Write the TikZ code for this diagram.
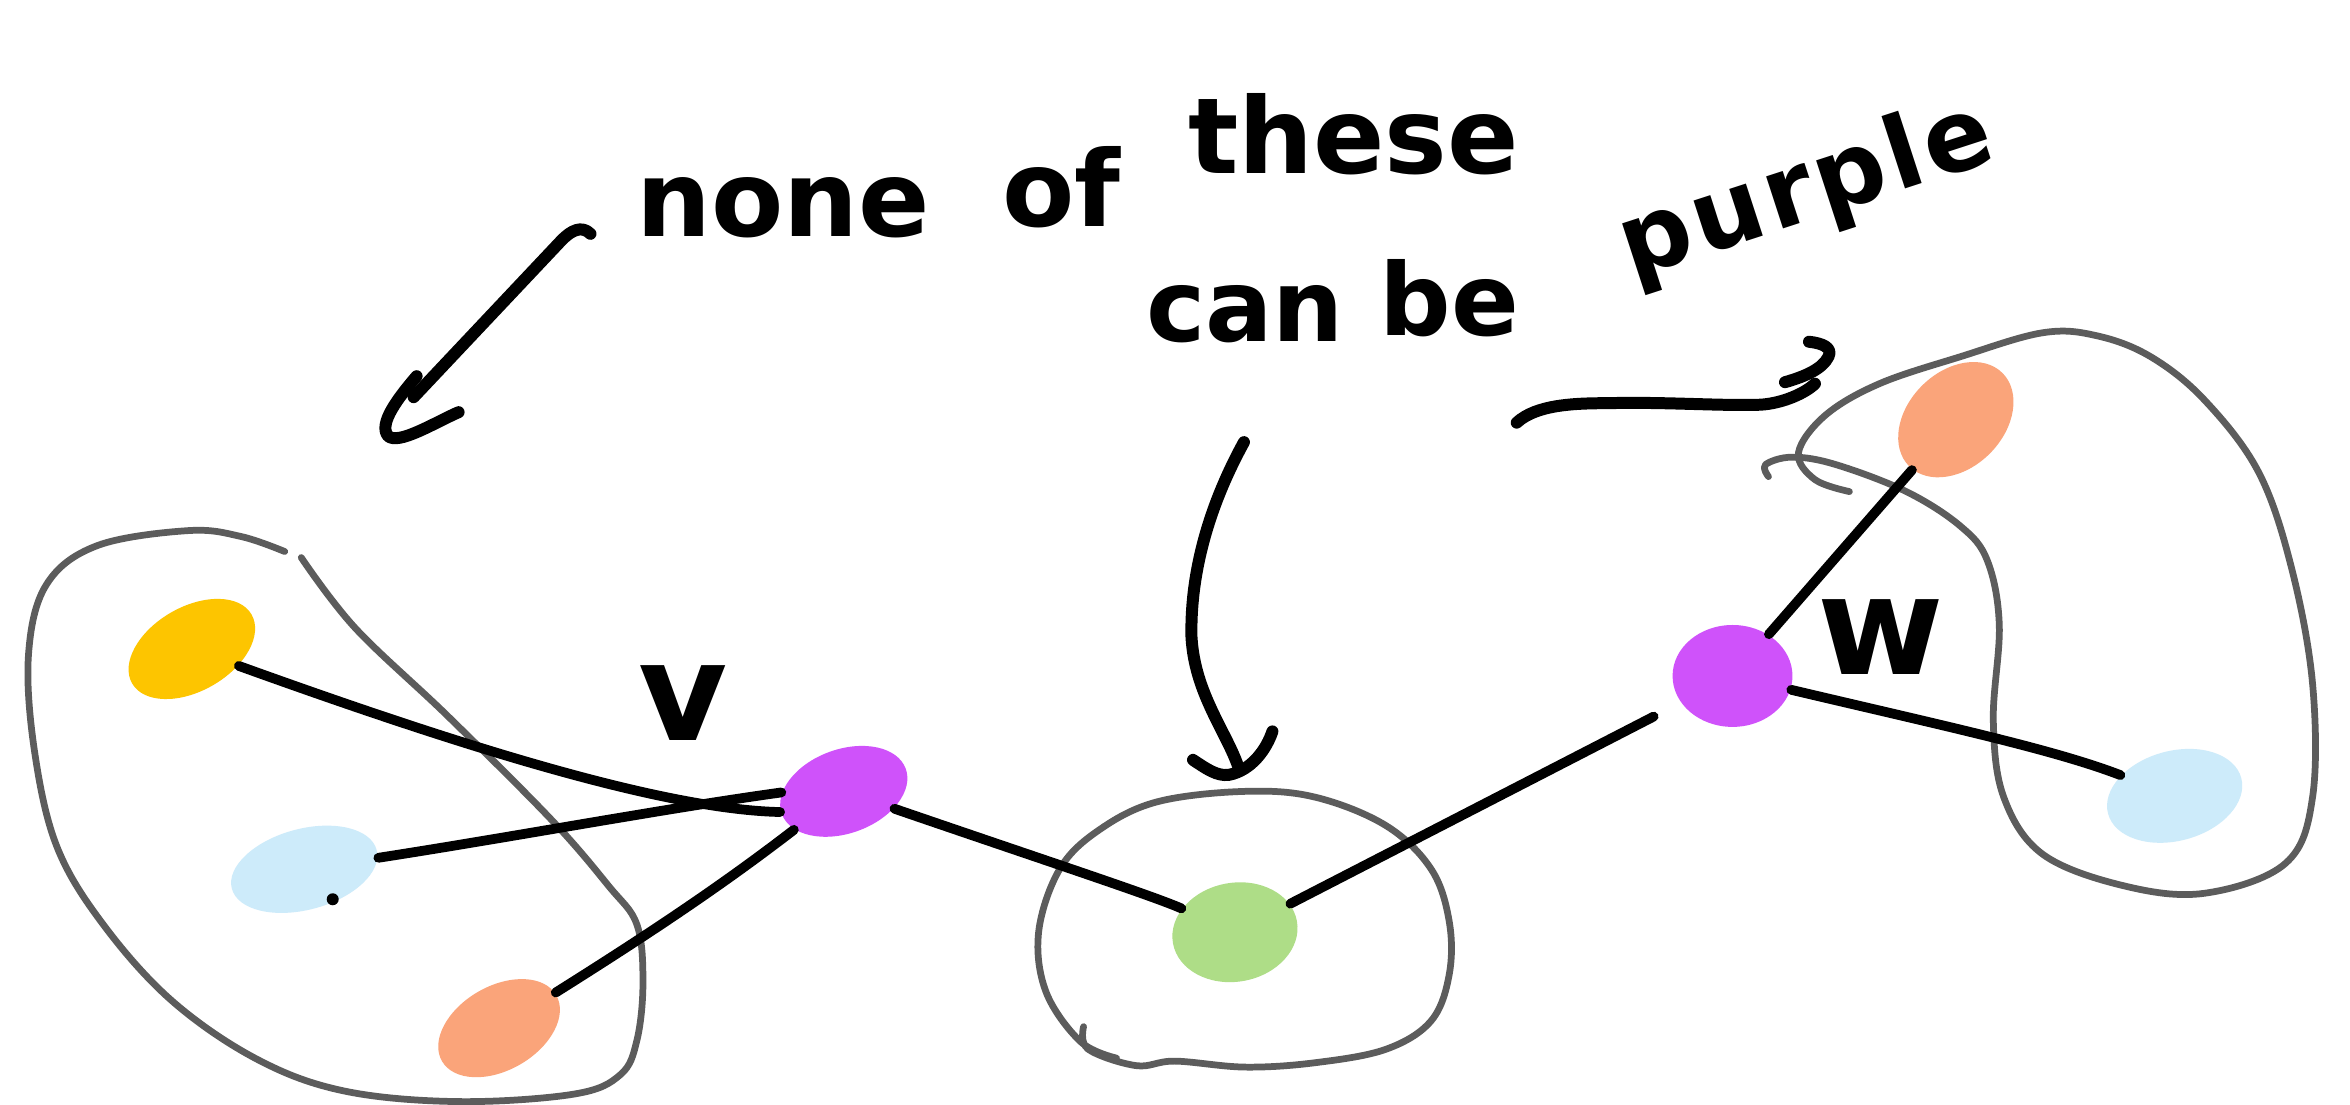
\documentclass[tikz,border=0pt]{standalone}
\usepackage{fontspec}
\setmainfont{DejaVu Sans}
\usetikzlibrary{shapes.geometric}

\definecolor{blobyellow}{RGB}{253,197,0}
\definecolor{blobblue}{RGB}{205,235,250}
\definecolor{bloborange}{RGB}{250,164,122}
\definecolor{blobpurple}{RGB}{207,82,250}
\definecolor{blobgreen}{RGB}{174,221,135}
\definecolor{pencil}{RGB}{92,92,92}

\begin{document}
\begin{tikzpicture}[x=0.1mm, y=-0.1mm,
  blob/.style={ellipse, inner sep=0pt, draw=none},
  edge/.style={line width=0.65mm, line cap=round},
  ink/.style={line width=0.8mm, line cap=round, line join=round},
  outline/.style={line width=0.45mm, draw=pencil, line cap=round, line join=round},
  word/.style={font=\fontsize{20pt}{22pt}\selectfont\bfseries, inner sep=0pt, anchor=base west},
  smallword/.style={word, font=\fontsize{19pt}{21pt}\selectfont\bfseries},
  lbl/.style={font=\fontsize{26pt}{28pt}\selectfont\bfseries, inner sep=0pt}]

\useasboundingbox (0,0) rectangle (1568,737);
\fill[white] (0,0) rectangle (1568,737);

% vertices
\node[blob, fill=blobyellow, minimum width=9.2mm, minimum height=5.6mm, rotate=30] (yel) at (128,433) {};
\node[blob, fill=blobblue,   minimum width=10mm,  minimum height=5.4mm, rotate=15] (lbA) at (203,580) {};
\node[blob, fill=bloborange, minimum width=8.8mm, minimum height=5.6mm, rotate=30] (orA) at (333,686) {};
\node[blob, fill=blobpurple, minimum width=8.8mm, minimum height=5.6mm, rotate=20] (pv)  at (563,528) {};
\node[blob, fill=blobgreen,  minimum width=8.4mm, minimum height=6.6mm, rotate=10] (gr)  at (824,622) {};
\node[blob, fill=blobpurple, minimum width=8mm,   minimum height=6.8mm]            (pw)  at (1156,451) {};
\node[blob, fill=bloborange, minimum width=8.8mm, minimum height=6.4mm, rotate=45] (orB) at (1305,280) {};
\node[blob, fill=blobblue,   minimum width=9.2mm, minimum height=6mm,   rotate=15] (lbB) at (1451,531) {};

% small pen mark under the left blue vertex
\fill (222,600) circle (4);

% group outlines
\draw[outline] plot[smooth, tension=0.6] coordinates {
  (201,372) (237,419) (299,478) (368,547) (406,591) (425,617) (429,656)
  (425,694) (414,717) (383,730) (306,735) (230,728) (172,707) (115,668)
  (69,617) (38,565) (23,501) (19,437) (31,390) (65,364) (126,354) (161,358) (190,368)};
\draw[outline] plot[smooth, tension=0.6] coordinates {
  (723,685) (726,700) (758,711) (784,708) (831,712) (878,709) (925,700)
  (955,681) (967,650) (967,615) (955,580) (925,551) (878,532) (831,528)
  (772,535) (733,554) (707,580) (693,622) (698,662) (721,695) (745,706)};
\draw[outline] plot[smooth, tension=0.6] coordinates {
  (1234,328) (1211,320) (1200,302) (1218,277) (1254,256) (1308,238) (1363,222)
  (1399,224) (1435,238) (1471,267) (1507,315) (1529,379) (1543,456) (1543,532)
  (1525,576) (1471,596) (1417,591) (1363,570) (1337,532) (1330,481) (1334,417)
  (1326,374) (1308,351) (1272,328) (1225,310) (1196,305) (1178,310) (1180,318)};

% edges
\draw[edge] (yel) .. controls (300,495) and (440,540) .. (pv.178);
\draw[edge] (lbA) .. controls (345,558) and (440,540) .. (pv.161);
\draw[edge] (orA) .. controls (430,625) and (480,592) .. (pv);
\draw[edge] (pv) .. controls (700,575) and (770,598) .. (gr);
\draw[edge, shorten >=2mm] (gr) -- (pw);
\draw[edge] (pw) -- (orB);
\draw[edge] (pw) .. controls (1300,485) and (1370,500) .. (lbB);

% vertex labels
\node[lbl] (labv) at (456,469) {v};
\node[lbl] (labw) at (1255,425) {w};

% annotation
\node[word] (tNone)  at (424,158) {none};
\node[word] (tOf)    at (668,151) {of};
\node[word] (tThese) at (792,116) {these};
\node[smallword] (tCan) at (764,228) {can};
\node[smallword] (tBe)  at (920,224) {be};
\node[smallword, rotate=18] (tPurple) at (1088,186)
  {\addfontfeatures{LetterSpace=4}purple};

% arrow to the left group
\coordinate (aLs) at (394,156);
\coordinate (aLe) at (276,265);
\draw[ink] (aLs) .. controls (388,150) and (381,154) .. (375,160) -- (aLe);
\draw[ink] (278,251) .. controls (266,265) and (252,283) .. (259,291)
  .. controls (266,297) and (290,282) .. (306,275);

% arrow to the middle group
\coordinate (aMs) at (830,295);
\coordinate (aMe) at (826,511);
\draw[ink] (aMs) .. controls (808,335) and (794,380) .. (795,425)
  .. controls (797,462) and (818,488) .. (aMe);
\draw[ink] (796,507) .. controls (805,513) and (812,518) .. (820,517)
  .. controls (835,514) and (845,500) .. (849,488);

% arrow to the right group
\coordinate (aRs) at (1012,282);
\coordinate (aRe) at (1211,256);
\draw[ink] (aRs) .. controls (1025,270) and (1050,269) .. (1073,269)
  .. controls (1110,268) and (1150,271) .. (1175,270)
  .. controls (1190,269) and (1205,262) .. (aRe);
\draw[ink] (1207,228) .. controls (1216,229) and (1223,232) .. (1220,238)
  .. controls (1216,246) and (1205,251) .. (1191,255);

\end{tikzpicture}
\end{document}
